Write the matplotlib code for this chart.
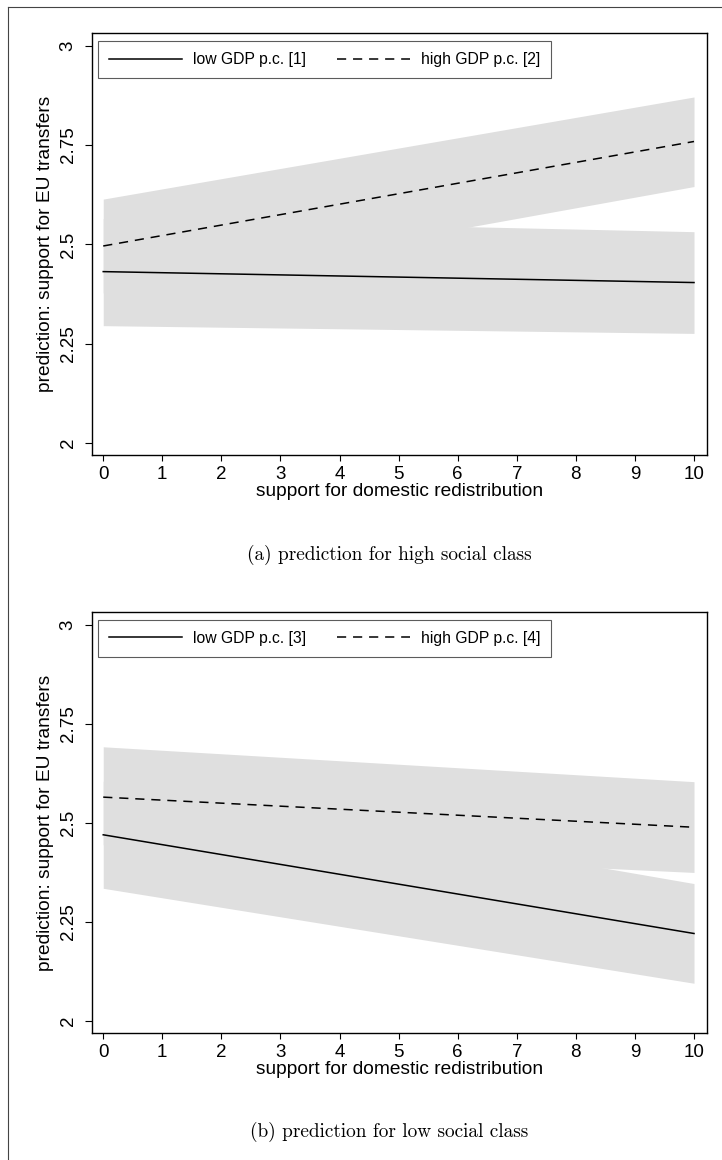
import matplotlib
matplotlib.use("Agg")
import matplotlib.pyplot as plt
from matplotlib.lines import Line2D

plt.rcParams['font.family'] = ['Liberation Sans', 'DejaVu Sans']

W, H = 722, 1160

# values (x = support for domestic redistribution)
x_vals = [0, 10]

# (a) high social class
a_low = [2.4315, 2.404]
a_low_lo = [2.2955, 2.276]
a_low_hi = [2.565, 2.532]
a_high = [2.496, 2.759]
a_high_lo = [2.378, 2.6456]
a_high_hi = [2.614, 2.871]

# (b) low social class
b_low = [2.47, 2.221]
b_low_lo = [2.335, 2.0955]
b_low_hi = [2.605, 2.347]
b_high = [2.565, 2.489]
b_high_lo = [2.445, 2.375]
b_high_hi = [2.692, 2.604]

y_ticks = [2, 2.25, 2.5, 2.75, 3]
y_ticklabels = ['2', '2.25', '2.5', '2.75', '3']
x_ticks = list(range(11))

panels = [
    dict(top=33, bottom=455, caption='(a) prediction for high social class', cap_y=555,
         labels=['low GDP p.c. [1]', 'high GDP p.c. [2]'],
         low=a_low, low_lo=a_low_lo, low_hi=a_low_hi,
         high=a_high, high_lo=a_high_lo, high_hi=a_high_hi),
    dict(top=612, bottom=1033, caption='(b) prediction for low social class', cap_y=1132,
         labels=['low GDP p.c. [3]', 'high GDP p.c. [4]'],
         low=b_low, low_lo=b_low_lo, low_hi=b_low_hi,
         high=b_high, high_lo=b_high_lo, high_hi=b_high_hi),
]

fig = plt.figure(figsize=(W / 100, H / 100), dpi=100)
shade = '#dfdfdf'

for p in panels:
    left, right = 92, 707
    ax = fig.add_axes([left / W, (H - p['bottom']) / H, (right - left) / W, (p['bottom'] - p['top']) / H])
    ax.fill_between(x_vals, p['low_lo'], p['low_hi'], color=shade, lw=0)
    ax.fill_between(x_vals, p['high_lo'], p['high_hi'], color=shade, lw=0)
    ax.plot(x_vals, p['low'], color='black', lw=1.1, label=p['labels'][0])
    ax.plot(x_vals, p['high'], color='black', lw=1.1, dashes=(6, 4.5), label=p['labels'][1])

    ax.set_xlim(-0.19, 10.22)
    ax.set_ylim(1.97, 3.032)
    ax.set_xticks(x_ticks)
    ax.set_yticks(y_ticks)
    ax.set_yticklabels(y_ticklabels, rotation=90, va='center')
    ax.tick_params(axis='x', length=4.5, width=0.8, labelsize=13.5, pad=3.5)
    ax.tick_params(axis='y', length=5, width=0.8, labelsize=13.5, pad=6)
    for s in ax.spines.values():
        s.set_linewidth(1.0)
    ax.set_xlabel('support for domestic redistribution', fontsize=13.8, labelpad=0)
    ax.set_ylabel('prediction: support for EU transfers', fontsize=13.8, labelpad=4)

    leg = ax.legend(loc='upper left', bbox_to_anchor=(0.0098, 0.981), borderaxespad=0,
                    ncol=2, fontsize=11.3, handlelength=4.65, handletextpad=0.7,
                    columnspacing=1.95, frameon=True, fancybox=False, borderpad=0.7)
    leg.get_frame().set_edgecolor('#333333')
    leg.get_frame().set_linewidth(0.8)

    fig.text(389 / W, 1 - p['cap_y'] / H, p['caption'], family='cmr10', fontsize=13.9,
             ha='center', va='center')

# frame around the whole figure (left and top edges visible)
fig.add_artist(Line2D([8 / W, 8 / W], [-0.1, 1 - 7 / H], color='#444444', lw=0.8))
fig.add_artist(Line2D([8 / W, 1.1], [1 - 7 / H, 1 - 7 / H], color='#444444', lw=0.8))

fig.savefig('out.png', dpi=100)
